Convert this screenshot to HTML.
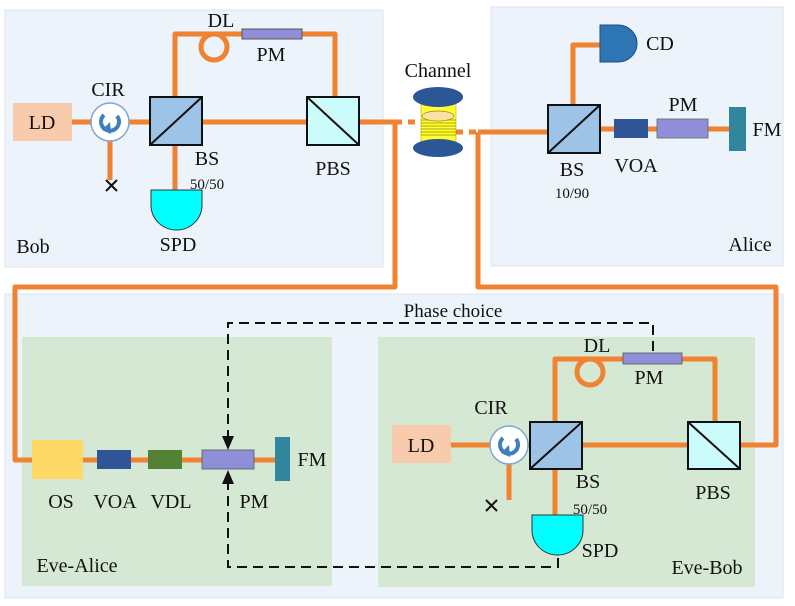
<!DOCTYPE html>
<html><head><meta charset="utf-8"><style>
html,body{margin:0;padding:0;background:#fff;}
svg{display:block;}
text{font-family:"Liberation Serif","DejaVu Serif",serif;}
</style></head><body>
<svg width="795" height="606" viewBox="0 0 795 606" xmlns="http://www.w3.org/2000/svg" font-family="Liberation Serif, serif">
<defs>
<g id="cir"><circle r="19" fill="#fff" stroke="#7fa7d0" stroke-width="1.5"/><path d="M7,-6 A9,9 0 1,1 -6,-7" fill="none" stroke="#3f7fc0" stroke-width="4"/><path d="M-10,4 L-2,-4 L-1,8 Z" fill="#3f7fc0" transform="translate(2,4)"/></g>
</defs>
<rect x="5" y="10" width="378" height="257" fill="#ecf3fa" stroke="#dde3ec"/>
<rect x="491" y="7" width="292" height="259" fill="#ecf3fa" stroke="#dde3ec"/>
<rect x="5" y="294" width="778" height="304" fill="#ecf3fa" stroke="#dde3ec"/>
<rect x="22" y="337" width="310" height="249" fill="#d5e8d4"/>
<rect x="378" y="337" width="377" height="250" fill="#d5e8d4"/>

<g stroke="#f08232" stroke-width="5" fill="none" stroke-linejoin="round">
<path d="M72,122 H92 M129,122 H150 M202,122 H307 M110,141 V180 M175,97 V34 H242 M302,34 H335 V97 M175,145 V190"/>
<circle cx="214" cy="47" r="13"/>
<path d="M359,122 H395 V287 H15 V460 H33"/>
<path d="M395,122 H420 M456,132 H478" stroke-dasharray="7,6"/>
<path d="M478,132 H548 M478,132 V287 H776 V445 H740 M573,105 V45 H600 M600,129 H614 M648,129 H657 M708,129 H729"/>
<path d="M83,460 H97 M131,460 H148 M182,460 H202 M254,460 H275"/>
<path d="M451,445 H490 M528,445 H530 M582,445 H688 M509,464 V500 M555,422 V359 H623 M682,359 H715 V422 M555,469 V515"/>
<circle cx="590" cy="372" r="13"/>
</g>

<rect x="13" y="103" width="59" height="38" fill="#f8cbad"/>
<use href="#cir" x="110" y="122"/>
<rect x="150" y="97" width="52" height="48" fill="#9dc3e6" stroke="#111" stroke-width="2"/>
<line x1="150" y1="145" x2="202" y2="97" stroke="#111" stroke-width="2"/>
<rect x="307" y="97" width="52" height="48" fill="#ccfbfb" stroke="#111" stroke-width="2"/>
<line x1="307" y1="97" x2="359" y2="145" stroke="#111" stroke-width="2"/>
<rect x="242" y="29" width="60" height="10" fill="#8e8fd8" stroke="#555" stroke-width="1"/>
<path d="M151,190 H202 V205 A25.5,25 0 0,1 151,205 Z" fill="#00ffff" stroke="#333" stroke-width="1"/>
<path d="M106,180 L117,191 M117,180 L106,191" stroke="#111" stroke-width="2"/>

<rect x="421" y="103" width="35" height="43" fill="#ffff33" stroke="#999900" stroke-width="0.5"/>
<g stroke="#998800" stroke-width="0.7"><line x1="421" y1="120" x2="456" y2="120"/><line x1="421" y1="123" x2="456" y2="123"/><line x1="421" y1="126" x2="456" y2="126"/><line x1="421" y1="129" x2="456" y2="129"/><line x1="421" y1="132" x2="456" y2="132"/><line x1="421" y1="135" x2="456" y2="135"/></g>
<ellipse cx="438" cy="116" rx="16" ry="5" fill="#fbe0a8" stroke="#998800" stroke-width="0.7"/>
<ellipse cx="438" cy="97" rx="25" ry="10" fill="#2b5797"/>
<ellipse cx="438" cy="148" rx="25" ry="9" fill="#2b5797"/>

<rect x="548" y="105" width="52" height="48" fill="#9dc3e6" stroke="#111" stroke-width="2"/>
<line x1="548" y1="153" x2="600" y2="105" stroke="#111" stroke-width="2"/>
<path d="M600,25 H618 A19,18.5 0 0,1 618,62 H600 Z" fill="#2e75b6" stroke="#1f4e79" stroke-width="1"/>
<rect x="614" y="119" width="34" height="19" fill="#2f5597"/>
<rect x="657" y="119" width="51" height="19" fill="#8e8fd8" stroke="#666" stroke-width="0.8"/>
<rect x="729" y="107" width="17" height="44" fill="#31859c"/>

<rect x="32" y="440" width="51" height="39" fill="#ffd966"/>
<rect x="97" y="450" width="34" height="19" fill="#2f5597"/>
<rect x="148" y="450" width="34" height="19" fill="#548235"/>
<rect x="202" y="450" width="52" height="19" fill="#8e8fd8" stroke="#555" stroke-width="0.8"/>
<rect x="275" y="437" width="15" height="44" fill="#31859c"/>

<rect x="392" y="425" width="59" height="38" fill="#f8cbad"/>
<use href="#cir" x="509" y="445"/>
<rect x="530" y="422" width="52" height="47" fill="#9dc3e6" stroke="#111" stroke-width="2"/>
<line x1="530" y1="469" x2="582" y2="422" stroke="#111" stroke-width="2"/>
<rect x="688" y="422" width="52" height="47" fill="#ccfbfb" stroke="#111" stroke-width="2"/>
<line x1="688" y1="422" x2="740" y2="469" stroke="#111" stroke-width="2"/>
<rect x="623" y="353" width="59" height="11" fill="#8e8fd8" stroke="#555" stroke-width="0.8"/>
<path d="M532,515 H583 V530 A25.5,25 0 0,1 532,530 Z" fill="#00ffff" stroke="#333" stroke-width="1"/>
<path d="M486,500 L497,511 M497,500 L486,511" stroke="#111" stroke-width="2"/>

<g stroke="#111" stroke-width="2" fill="none" stroke-dasharray="10,6">
<path d="M228,440 V323 H653 V352"/>
<path d="M228,480 V567 H558 V557"/>
</g>
<path d="M222,436 L234,436 L228,450 Z" fill="#111"/>
<path d="M222,484 L234,484 L228,470 Z" fill="#111"/>

<g font-size="20" fill="#111" text-anchor="middle" font-family="Liberation Serif, serif">
<text x="42" y="129">LD</text>
<text x="108" y="96">CIR</text>
<text x="221" y="27">DL</text>
<text x="271" y="61">PM</text>
<text x="207" y="165">BS</text>
<text x="333" y="175">PBS</text>
<text x="178" y="251">SPD</text>
<text x="33" y="253">Bob</text>
<text x="438" y="77">Channel</text>
<text x="660" y="50">CD</text>
<text x="683" y="111">PM</text>
<text x="767" y="136">FM</text>
<text x="572" y="176">BS</text>
<text x="636" y="172">VOA</text>
<text x="750" y="251">Alice</text>
<text x="453" y="317" font-size="19">Phase choice</text>
<text x="61" y="508">OS</text>
<text x="115" y="508">VOA</text>
<text x="171" y="508">VDL</text>
<text x="254" y="508">PM</text>
<text x="312" y="466">FM</text>
<text x="77" y="572">Eve-Alice</text>
<text x="421" y="452">LD</text>
<text x="491" y="414">CIR</text>
<text x="597" y="352">DL</text>
<text x="649" y="384">PM</text>
<text x="588" y="488">BS</text>
<text x="713" y="499">PBS</text>
<text x="600" y="557">SPD</text>
<text x="707" y="574">Eve-Bob</text>
</g>
<g font-size="15" fill="#111" text-anchor="middle" font-family="Liberation Serif, serif">
<text x="207" y="189">50/50</text>
<text x="572" y="198">10/90</text>
<text x="590" y="514">50/50</text>
</g>
</svg>
</body></html>
